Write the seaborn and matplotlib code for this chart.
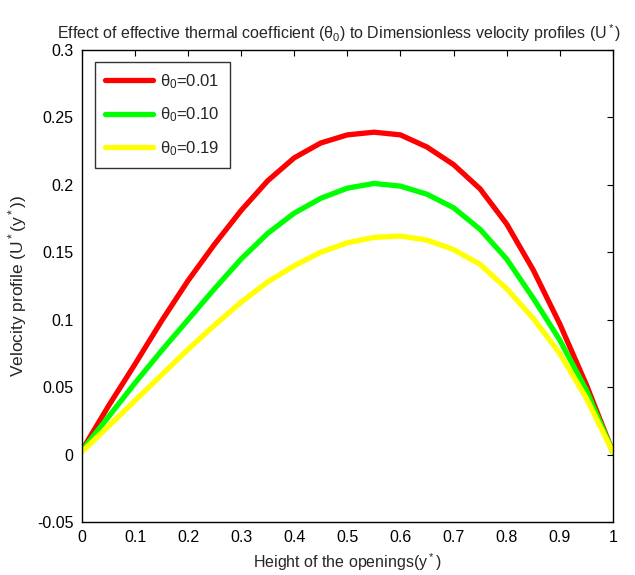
import matplotlib
matplotlib.use("Agg")
import matplotlib.pyplot as plt
import seaborn as sns
import pandas as pd
from matplotlib.ticker import FuncFormatter

# Data
height = [0, 0.05, 0.1, 0.15, 0.2, 0.25, 0.3, 0.35, 0.4, 0.45, 0.5, 0.55, 0.6,
          0.65, 0.7, 0.75, 0.8, 0.85, 0.9, 0.95, 1.0]
u_001 = [0.003, 0.036, 0.067, 0.099, 0.129, 0.156, 0.181, 0.203, 0.220, 0.231, 0.237,
         0.239, 0.237, 0.228, 0.215, 0.197, 0.171, 0.137, 0.097, 0.052, 0.002]
u_010 = [0.003, 0.028, 0.053, 0.077, 0.100, 0.123, 0.145, 0.164, 0.179, 0.190, 0.1975,
         0.201, 0.199, 0.193, 0.183, 0.167, 0.145, 0.116, 0.085, 0.048, 0.002]
u_019 = [0.002, 0.021, 0.040, 0.059, 0.078, 0.096, 0.113, 0.128, 0.140, 0.150, 0.157,
         0.161, 0.162, 0.159, 0.152, 0.141, 0.123, 0.101, 0.075, 0.042, 0.002]
series_labels = [r'$\theta_0$=0.01', r'$\theta_0$=0.10', r'$\theta_0$=0.19']
colors = ['#FF0000', '#00FF00', '#FFFF00']
xticks = [0, 0.1, 0.2, 0.3, 0.4, 0.5, 0.6, 0.7, 0.8, 0.9, 1]
yticks = [-0.05, 0, 0.05, 0.1, 0.15, 0.2, 0.25, 0.3]

sns.set_style('white')
plt.rcParams['font.family'] = ['Liberation Sans', 'DejaVu Sans']
plt.rcParams['mathtext.fontset'] = 'custom'
plt.rcParams['mathtext.rm'] = 'Liberation Sans'
plt.rcParams['mathtext.it'] = 'Liberation Sans'
plt.rcParams['mathtext.bf'] = 'Liberation Sans'

frames = []
for lab, vals in zip(series_labels, [u_001, u_010, u_019]):
    frames.append(pd.DataFrame({'y': height, 'U': vals, 'series': lab}))
df = pd.concat(frames, ignore_index=True)

fig = plt.figure(figsize=(6.35, 5.75), dpi=100)
ax = fig.add_axes([0.129, 0.0922, 0.836, 0.821])

sns.lineplot(data=df, x='y', y='U', hue='series', hue_order=series_labels,
             palette=colors, linewidth=3.8, ax=ax, sort=False)
for ln in ax.get_lines():
    ln.set_solid_joinstyle('round')

ax.set_xlim(0, 1)
ax.set_ylim(-0.05, 0.3)
ax.set_xticks(xticks)
ax.set_yticks(yticks)
fmt = FuncFormatter(lambda v, p: ('%g' % round(v, 4)))
ax.xaxis.set_major_formatter(fmt)
ax.yaxis.set_major_formatter(fmt)
ax.tick_params(direction='in', length=4, width=0.8, top=True, right=True,
               labelsize=11.5, colors='black', pad=6)
for s in ax.spines.values():
    s.set_color('black')
    s.set_linewidth(1.0)

ax.set_xlabel(r'Height of the openings(y$^*$)', fontsize=11.5, labelpad=4)
ax.set_ylabel(r'Velocity profile (U$^*$(y$^*$))', fontsize=12.5, labelpad=6)
ax.set_title(r'Effect of effective thermal coefficient ($\theta_0$) to Dimensionless velocity profiles (U$^*$)',
             fontsize=11.5, pad=8, x=0.485)

leg = ax.legend(loc='upper left', fontsize=12, frameon=True, fancybox=False,
                handlelength=2.9, handletextpad=0.4, borderpad=0.6,
                labelspacing=0.9, borderaxespad=0,
                bbox_to_anchor=(0.0245, 0.9746))
leg.get_frame().set_edgecolor('black')
leg.get_frame().set_linewidth(1.0)
for line in leg.get_lines():
    line.set_linewidth(3.8)

fig.savefig('out.png', dpi=100)
